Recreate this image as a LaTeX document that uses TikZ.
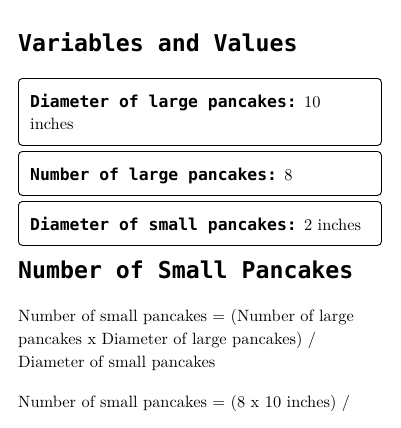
\documentclass[tikz,border=0pt]{standalone}
\usepackage{fontspec}
\newfontfamily\codefont{DejaVu Sans Mono}
\newfontfamily\bodyfont{lmroman10-regular.otf}
\newcommand{\bodysize}{\bodyfont\fontsize{16.4}{23}\selectfont}
\newcommand{\vname}[1]{{\codefont\bfseries #1}}

\begin{document}
\begin{tikzpicture}[x=1pt, y=-1pt,
hdr/.style = {anchor=base west, inner sep=0pt, font=\codefont\bfseries\fontsize{23.2}{28}\selectfont},
varbox/.style = {draw, rounded corners=4pt, line width=0.9pt, anchor=north west, minimum width=363pt, inner sep=0pt},
txt/.style = {anchor=base west, inner sep=0pt, font=\bodysize}
]
\useasboundingbox (0,0) rectangle (400,428);
% variables
\node[hdr] (vars) at (18,52) {Variables and Values};
\node[varbox, minimum height=67pt] (box1) at (18,78) {};
\node[varbox, minimum height=44pt] (box2) at (18,151) {};
\node[varbox, minimum height=44pt] (box3) at (18,201) {};
\node[txt] (dlarge) at (30,107) {\vname{Diameter of large pancakes:} 10};
\node[txt] (dlargeb) at (30,129) {inches};
\node[txt] (nlarge) at (30,180) {\vname{Number of large pancakes:} 8};
\node[txt] (dsmall) at (30,230) {\vname{Diameter of small pancakes:} 2 inches};
% result
\node[hdr] (result) at (18,278) {Number of Small Pancakes};
\node[txt] (eqa) at (18,321) {Number of small pancakes = (Number of large};
\node[txt] (eqb) at (18,344) {pancakes x Diameter of large pancakes) /};
\node[txt] (eqc) at (18,367) {Diameter of small pancakes};
\node[txt] (eqd) at (18,407) {Number of small pancakes = (8 x 10 inches) /};
\end{tikzpicture}
\end{document}
